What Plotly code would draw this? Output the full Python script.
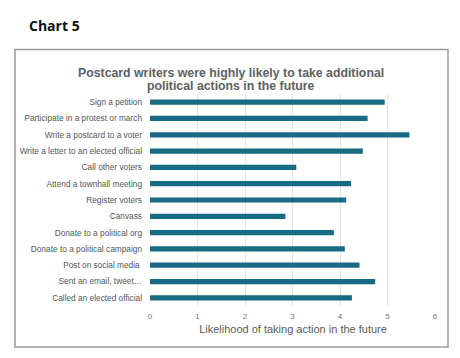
import plotly.graph_objects as go

categories = [
    "Sign a petition",
    "Participate in a protest or march",
    "Write a postcard to a voter",
    "Write a letter to an elected official",
    "Call other voters",
    "Attend a townhall meeting",
    "Register voters",
    "Canvass",
    "Donate to a political org",
    "Donate to a political campaign",
    "Post on social media ",
    "Sent an email, tweet…",
    "Called an elected official",
]
values = [4.94, 4.58, 5.46, 4.48, 3.08, 4.23, 4.13, 2.85, 3.87, 4.10, 4.41, 4.74, 4.25]
x_ticks = [0, 1, 2, 3, 4, 5, 6]
title_lines = ["Postcard writers were highly likely to take additional",
               "political actions in the future"]

# page body has an 8px margin; compensate so the picture lands at window coords
OFF = 8
W, H = 460 - OFF, 358 - OFF
L, R, T, B = 150 - OFF, 24, 93.5 - OFF, 52
pw, ph = W - L - R, H - T - B

def px(x):
    return (x - OFF - L) / pw

def py(y):
    return (H - B - (y - OFF)) / ph

fig = go.Figure(go.Bar(
    y=categories, x=values, orientation="h",
    marker=dict(color="#176b85", line=dict(width=0)),
    hoverinfo="x+y",
))

annotations = [
    dict(text="<b>Chart 5</b>", xref="paper", yref="paper",
         x=px(27), y=py(25), xanchor="left", yanchor="middle", showarrow=False,
         font=dict(family="Open Sans, Liberation Sans, sans-serif", size=14, color="#111111")),
]
for line, yc in zip(title_lines, [72.5, 85.5]):
    annotations.append(dict(
        text="<b>" + line + "</b>", xref="paper", yref="paper", x=px(231), y=py(yc),
        xanchor="center", yanchor="middle", showarrow=False,
        font=dict(family="Liberation Sans, Arial, sans-serif", size=12.3, color="#606060")))

fig.update_layout(
    width=W, height=H,
    margin=dict(l=L, r=R, t=T, b=B, autoexpand=False),
    paper_bgcolor="white", plot_bgcolor="white",
    bargap=0.68,
    showlegend=False,
    font=dict(family="Liberation Sans, Arial, sans-serif", color="#595959"),
    xaxis=dict(
        range=[0, 6.02], tickvals=x_ticks, showgrid=True, gridcolor="#e4e4e4", gridwidth=1,
        zeroline=False, showline=False, tickfont=dict(size=8, color="#777777"),
        ticklabelstandoff=4,
        title=dict(text="Likelihood of taking action in the future",
                   font=dict(size=11, color="#5a5a5a"), standoff=5),
        fixedrange=True,
    ),
    yaxis=dict(
        autorange="reversed", showgrid=False, zeroline=False, showline=False,
        tickfont=dict(size=8.3, color="#555555"), ticklabelstandoff=7,
        fixedrange=True,
    ),
    shapes=[dict(
        type="rect", xref="paper", yref="paper",
        x0=px(15), x1=px(448), y0=py(347), y1=py(49),
        line=dict(color="#9a9a9a", width=1.5), fillcolor="rgba(0,0,0,0)", layer="below",
    )],
    annotations=annotations,
)

fig.write_html("out.html")
